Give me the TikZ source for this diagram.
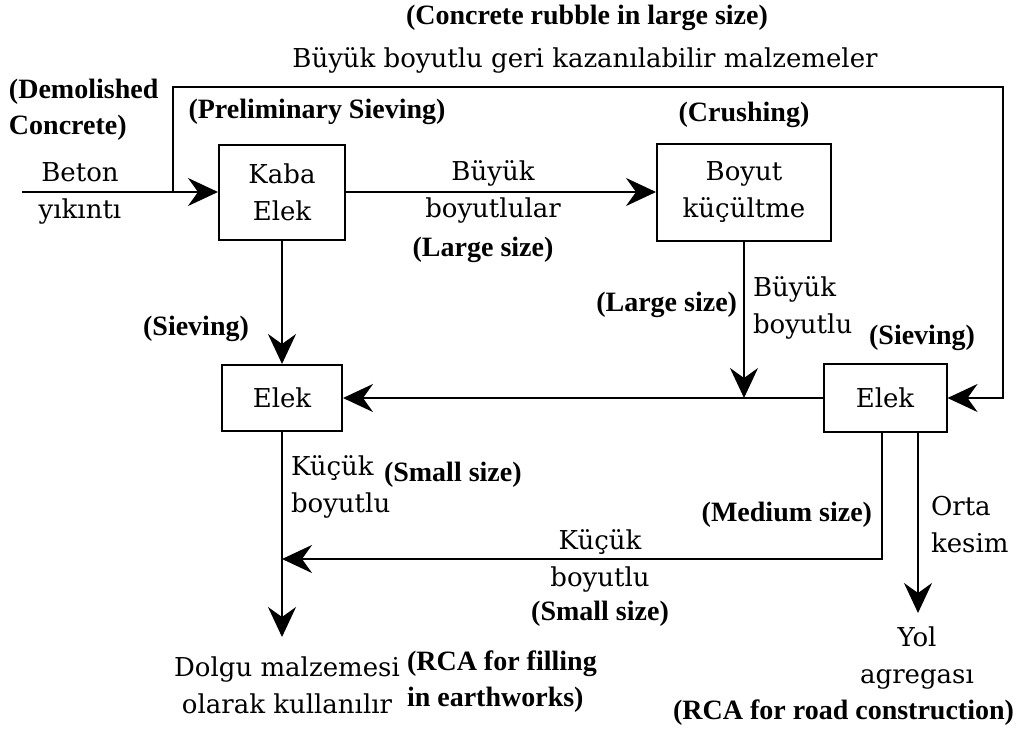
\documentclass[tikz,border=0pt]{standalone}
\usepackage{fontspec}
\setmainfont{DejaVu Serif}
\newfontfamily\enfont{Liberation Serif}
\usetikzlibrary{arrows.meta, positioning}
\tikzstyle{box} = [rectangle, draw = black, line width = 1pt, text centered,
  align = center, inner sep = 0, font = \fontsize{13}{18.5}\selectfont]
\tikzstyle{trlabel} = [align = center, inner sep = 0,
  font = \fontsize{13}{18.5}\selectfont]
\tikzstyle{enlabel} = [align = center, inner sep = 0,
  font = \enfont\bfseries\fontsize{14}{18}\selectfont]

\begin{document}
\begin{tikzpicture}[x = 0.5pt, y = -0.5pt, line width = 1pt,
    > = {Stealth[length = 15pt, width = 14pt, inset = 5pt]}]
    \useasboundingbox (0, 0) rectangle (1020, 733);
    % process boxes
    \node [box, minimum width = 63pt, minimum height = 47.5pt] (kaba) at (282, 192) {Kaba\\Elek};
    \node [box, minimum width = 87pt, minimum height = 48.5pt] (boyut) at (744, 192) {Boyut\\küçültme};
    \node [box, minimum width = 60pt, minimum height = 33pt] (elek-1) at (282, 398) {Elek};
    \node [box, minimum width = 61.5pt, minimum height = 34pt] (elek-2) at (885, 398) {Elek};

    \coordinate (in) at (22, 192);
    \coordinate (split) at (173, 192);
    \coordinate (corner) at (1003, 87);
    \coordinate (join) at (744, 398);
    \coordinate (small-join) at (282, 559);
    \coordinate (fill-end) at (282, 637);
    \coordinate (road-end) at (918, 613);

    \draw [->] (in) -- (kaba);
    \draw [->] (split) |- (corner) |- (elek-2.east);
    \draw [->] (kaba) -- (boyut);
    \draw [->] (kaba) -- (elek-1);
    \draw [->] (boyut) -- (join);
    \draw [->] (elek-2) -- (elek-1);
    \draw [->] (elek-1) -- (fill-end);
    \draw [->] ([xshift = -1.5pt]elek-2.south) |- (small-join);
    \draw [->] ([xshift = 16.5pt]elek-2.south) -- (road-end);

    % labels
    \node [enlabel] (rubble-en) at (587, 18) {(Concrete rubble in large size)};
    \node [trlabel] (rubble-tr) at (585, 60) {Büyük boyutlu geri kazanılabilir malzemeler};
    \node [enlabel, align = left, anchor = west] (demolished-en) at (8, 110) {(Demolished\\Concrete)};
    \node [enlabel] (prelim-en) at (317, 112) {(Preliminary Sieving)};
    \node [trlabel] (beton-tr) at (80, 193) {Beton\\yıkıntı};
    \node [trlabel] (large-tr-1) at (493, 192) {Büyük\\boyutlular};
    \node [enlabel] (large-en-1) at (483, 250) {(Large size)};
    \node [enlabel, above = 7pt of boyut] (crush-en) {(Crushing)};
    \node [enlabel, anchor = east] (large-en-2) at (738, 305) {(Large size)};
    \node [trlabel, align = left, anchor = west] (large-tr-2) at (752, 308) {Büyük\\boyutlu};
    \node [enlabel] (sieve-en-2) at (922, 338) {(Sieving)};
    \node [enlabel] (sieve-en-1) at (196, 329) {(Sieving)};
    \node [trlabel, align = left, anchor = west] (small-tr-1) at (290, 487) {Küçük\\boyutlu};
    \node [enlabel, anchor = west] (small-en-1) at (383, 475) {(Small size)};
    \node [enlabel, anchor = east] (medium-en) at (873, 515) {(Medium size)};
    \node [trlabel] (small-tr-2) at (600, 561) {Küçük\\boyutlu};
    \node [enlabel] (small-en-2) at (600, 614) {(Small size)};
    \node [trlabel, align = left, anchor = west] (orta-tr) at (930, 525) {Orta\\kesim};
    \node [trlabel] (dolgu-tr) at (287, 685) {Dolgu malzemesi\\olarak kullanılır};
    \node [enlabel, align = left, anchor = west] (fill-en) at (406, 682) {(RCA for filling\\in earthworks)};
    \node [trlabel] (yol-tr) at (917, 658) {Yol\\agregası};
    \node [enlabel, anchor = east] (road-en) at (1015, 713) {(RCA for road construction)};
  \end{tikzpicture}
\end{document}
